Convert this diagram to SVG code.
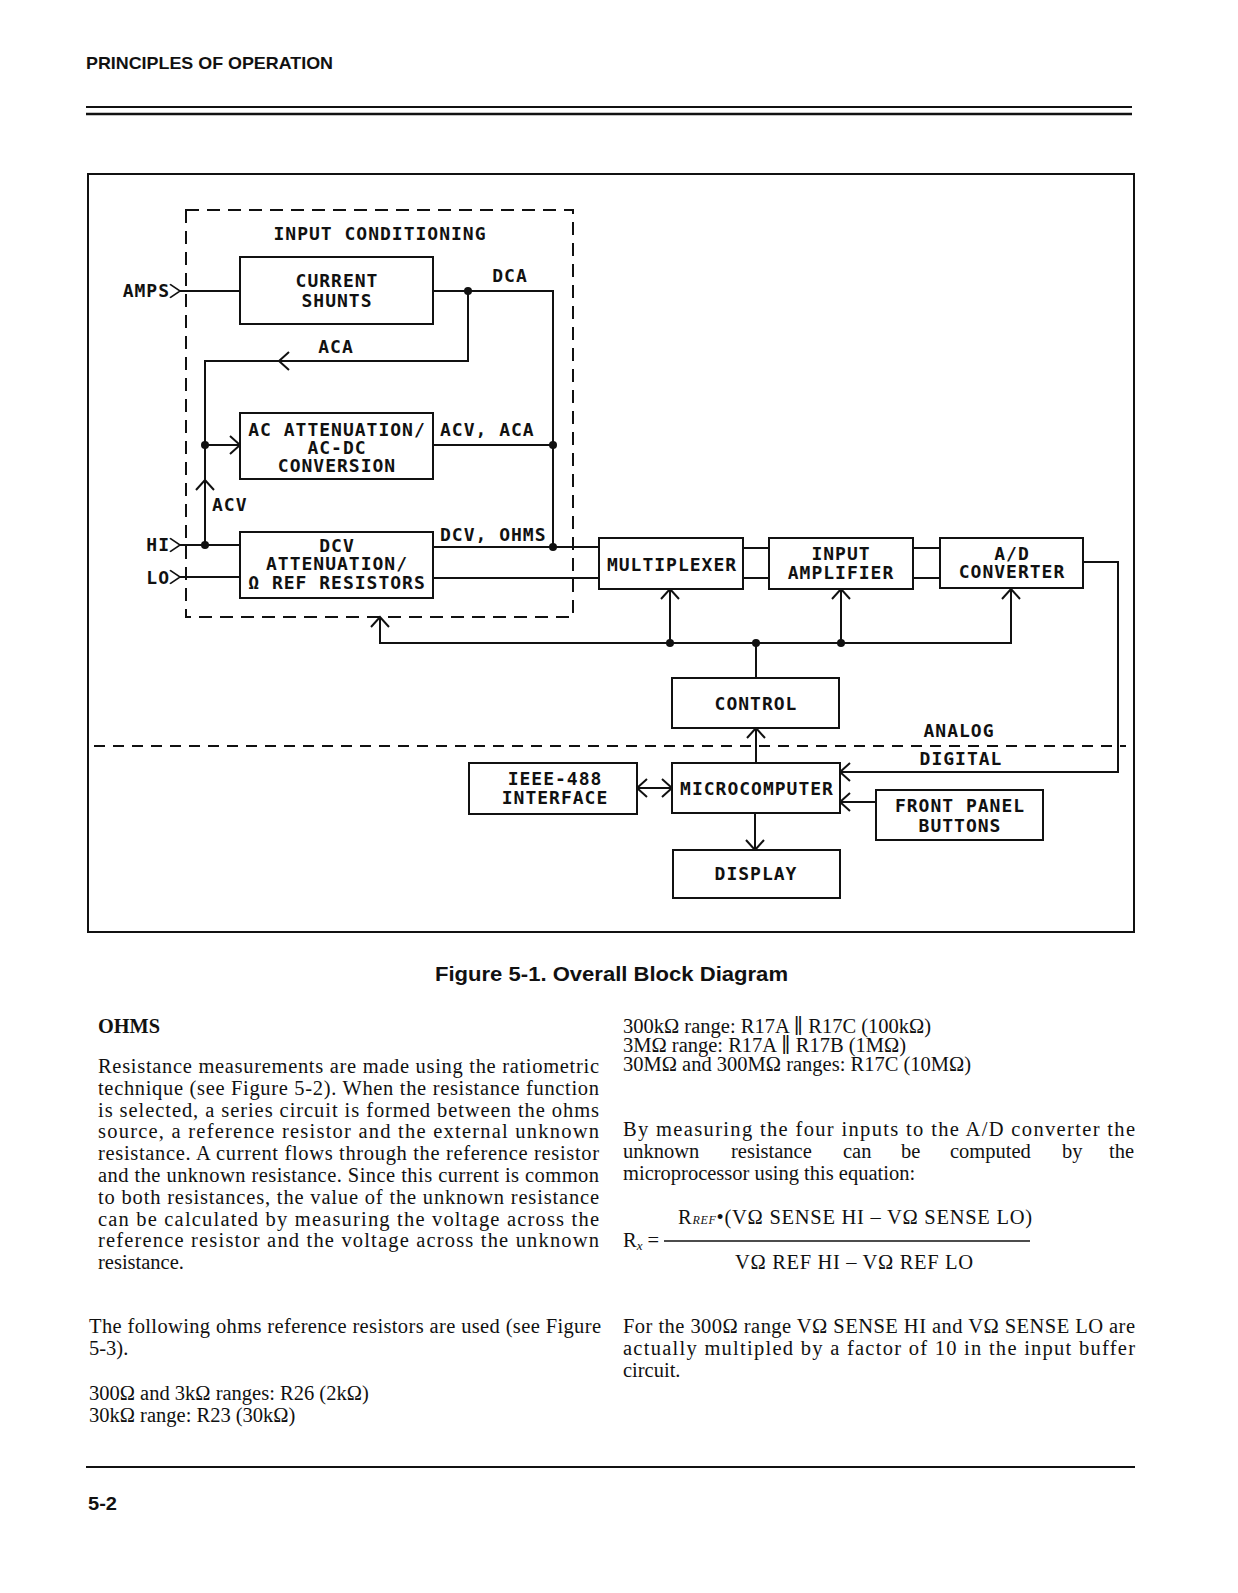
<svg xmlns="http://www.w3.org/2000/svg" xmlns:xlink="http://www.w3.org/1999/xlink" width="1238" height="1593" viewBox="0 0 1238 1593">
<style>
.ln{fill:none;stroke:#111;stroke-width:2}
.box{fill:#fff;stroke:#111;stroke-width:2}
.dash{fill:none;stroke:#111;stroke-width:2;stroke-dasharray:13 8}
.dash2{fill:none;stroke:#111;stroke-width:2;stroke-dasharray:11 8}
.dot{fill:#111}
.m{font-family:"DejaVu Sans Mono","Liberation Mono",monospace;font-size:18px;font-weight:bold;letter-spacing:1px;fill:#111;text-anchor:middle}
.ml{font-family:"DejaVu Sans Mono","Liberation Mono",monospace;font-size:18px;font-weight:bold;letter-spacing:1px;fill:#111}
.me{font-family:"DejaVu Sans Mono","Liberation Mono",monospace;font-size:18px;font-weight:bold;letter-spacing:1px;fill:#111;text-anchor:end}
.b{font-family:"Liberation Serif","DejaVu Serif",serif;font-size:20.5px;fill:#111}
.h{font-family:"Liberation Sans",Arial,sans-serif;font-weight:bold;fill:#111}
</style>
<defs>
<path id="chev" d="M-10,-9 L0,0 L-10,9" fill="none" stroke="#111" stroke-width="2"/>
</defs>
<rect width="1238" height="1593" fill="#fff"/>

<!-- page header -->
<text class="h" x="86" y="69" font-size="17" textLength="247" lengthAdjust="spacingAndGlyphs">PRINCIPLES OF OPERATION</text>
<line x1="86" y1="107" x2="1132" y2="107" stroke="#111" stroke-width="2"/>
<line x1="86" y1="114" x2="1132" y2="114" stroke="#111" stroke-width="2.5"/>

<!-- figure frame -->
<rect x="88" y="174" width="1046" height="758" fill="none" stroke="#111" stroke-width="2"/>

<!-- input conditioning dashed group -->
<g id="input-conditioning">
<rect class="dash" x="186" y="210" width="387" height="407"/>
<text class="m" x="380" y="240">INPUT CONDITIONING</text>
</g>

<!-- connectors -->
<g id="connectors">
<path class="ln" d="M180,291 H240"/>
<path class="ln" d="M433,291 H553 V547"/>
<path class="ln" d="M468,291 V361 H205 V545"/>
<path class="ln" d="M205,445 H240"/>
<path class="ln" d="M433,445 H553"/>
<path class="ln" d="M180,545 H240"/>
<path class="ln" d="M180,577 H240"/>
<path class="ln" d="M433,547 H599"/>
<path class="ln" d="M433,578 H599"/>
<path class="ln" d="M743,548 H769 M743,578 H769"/>
<path class="ln" d="M913,548 H940 M913,578 H940"/>
<path class="ln" d="M1083,562 H1118 V772 H840"/>
<path class="ln" d="M876,802 H840"/>
<path class="ln" d="M380,617 V643 H1011 V589"/>
<path class="ln" d="M670,643 V589"/>
<path class="ln" d="M841,643 V589"/>
<path class="ln" d="M756,643 V678"/>
<path class="ln" d="M756,763 V728"/>
<path class="ln" d="M755,813 V850"/>
<path class="ln" d="M637,788 H672"/>
<path class="dash2" d="M94,746 H1126"/>
<!-- arrowheads -->
<use xlink:href="#chev" transform="translate(180,291) scale(1,0.75)"/>
<use xlink:href="#chev" transform="translate(180,545) scale(1,0.75)"/>
<use xlink:href="#chev" transform="translate(180,577) scale(1,0.75)"/>
<use xlink:href="#chev" transform="translate(279,361) rotate(180)"/>
<use xlink:href="#chev" transform="translate(240,445)"/>
<use xlink:href="#chev" transform="translate(205,480) rotate(-90)"/>
<use xlink:href="#chev" transform="translate(380,617) rotate(-90)"/>
<use xlink:href="#chev" transform="translate(670,589) rotate(-90)"/>
<use xlink:href="#chev" transform="translate(841,589) rotate(-90)"/>
<use xlink:href="#chev" transform="translate(1011,589) rotate(-90)"/>
<use xlink:href="#chev" transform="translate(756,728) rotate(-90)"/>
<use xlink:href="#chev" transform="translate(755,850) rotate(90)"/>
<use xlink:href="#chev" transform="translate(672,788)"/>
<use xlink:href="#chev" transform="translate(637,788) rotate(180)"/>
<use xlink:href="#chev" transform="translate(840,772) rotate(180)"/>
<use xlink:href="#chev" transform="translate(840,802) rotate(180)"/>
<!-- junction dots -->
<circle class="dot" cx="468" cy="291" r="4"/>
<circle class="dot" cx="553" cy="445" r="4"/>
<circle class="dot" cx="553" cy="547" r="4"/>
<circle class="dot" cx="205" cy="445" r="4"/>
<circle class="dot" cx="205" cy="545" r="4"/>
<circle class="dot" cx="670" cy="643" r="4"/>
<circle class="dot" cx="756" cy="643" r="4"/>
<circle class="dot" cx="841" cy="643" r="4"/>
<!-- connector labels -->
<text class="me" x="170" y="297">AMPS</text>
<text class="me" x="170" y="551">HI</text>
<text class="me" x="170" y="584">LO</text>
<text class="m" x="510" y="282">DCA</text>
<text class="m" x="336" y="353">ACA</text>
<text class="ml" x="440" y="436">ACV, ACA</text>
<text class="ml" x="212" y="511">ACV</text>
<text class="ml" x="440" y="541">DCV, OHMS</text>
<text class="m" x="959" y="737">ANALOG</text>
<text class="m" x="961" y="765">DIGITAL</text>
</g>

<g id="current-shunts">
<rect class="box" x="240" y="257" width="193" height="67"/>
<text class="m" x="337" y="287">CURRENT</text>
<text class="m" x="337" y="307">SHUNTS</text>
</g>
<g id="ac-attenuation">
<rect class="box" x="240" y="413" width="193" height="66"/>
<text class="m" x="337" y="436">AC ATTENUATION/</text>
<text class="m" x="337" y="454">AC-DC</text>
<text class="m" x="337" y="472">CONVERSION</text>
</g>
<g id="dcv-attenuation">
<rect class="box" x="240" y="532" width="193" height="66"/>
<text class="m" x="337" y="552">DCV</text>
<text class="m" x="337" y="570">ATTENUATION/</text>
<text class="m" x="337" y="589">Ω REF RESISTORS</text>
</g>
<g id="multiplexer">
<rect class="box" x="599" y="538" width="144" height="51"/>
<text class="m" x="672" y="571">MULTIPLEXER</text>
</g>
<g id="input-amplifier">
<rect class="box" x="769" y="538" width="144" height="51"/>
<text class="m" x="841" y="560">INPUT</text>
<text class="m" x="841" y="579">AMPLIFIER</text>
</g>
<g id="ad-converter">
<rect class="box" x="940" y="538" width="143" height="50"/>
<text class="m" x="1012" y="560">A/D</text>
<text class="m" x="1012" y="578">CONVERTER</text>
</g>
<g id="control">
<rect class="box" x="672" y="678" width="167" height="50"/>
<text class="m" x="756" y="710">CONTROL</text>
</g>
<g id="ieee-488">
<rect class="box" x="469" y="763" width="168" height="51"/>
<text class="m" x="555" y="785">IEEE-488</text>
<text class="m" x="555" y="804">INTERFACE</text>
</g>
<g id="microcomputer">
<rect class="box" x="672" y="763" width="168" height="50"/>
<text class="m" x="757" y="795">MICROCOMPUTER</text>
</g>
<g id="front-panel">
<rect class="box" x="876" y="790" width="167" height="50"/>
<text class="m" x="960" y="812">FRONT PANEL</text>
<text class="m" x="960" y="832">BUTTONS</text>
</g>
<g id="display">
<rect class="box" x="673" y="850" width="167" height="48"/>
<text class="m" x="756" y="880">DISPLAY</text>
</g>

<!-- caption -->
<text class="h" x="435" y="981" font-size="20" textLength="353" lengthAdjust="spacingAndGlyphs">Figure 5-1. Overall Block Diagram</text>

<!-- left column -->
<text x="98" y="1033" font-family="Liberation Serif, serif" font-weight="bold" font-size="20" fill="#111" textLength="62" lengthAdjust="spacingAndGlyphs">OHMS</text>
<g class="b">
<text x="98" y="1073" textLength="501" lengthAdjust="spacing">Resistance measurements are made using the ratiometric</text>
<text x="98" y="1095" textLength="501" lengthAdjust="spacing">technique (see Figure 5-2). When the resistance function</text>
<text x="98" y="1117" textLength="501" lengthAdjust="spacing">is selected, a series circuit is formed between the ohms</text>
<text x="98" y="1138" textLength="501" lengthAdjust="spacing">source, a reference resistor and the external unknown</text>
<text x="98" y="1160" textLength="501" lengthAdjust="spacing">resistance. A current flows through the reference resistor</text>
<text x="98" y="1182" textLength="501" lengthAdjust="spacing">and the unknown resistance. Since this current is common</text>
<text x="98" y="1204" textLength="501" lengthAdjust="spacing">to both resistances, the value of the unknown resistance</text>
<text x="98" y="1226" textLength="501" lengthAdjust="spacing">can be calculated by measuring the voltage across the</text>
<text x="98" y="1247" textLength="501" lengthAdjust="spacing">reference resistor and the voltage across the unknown</text>
<text x="98" y="1269">resistance.</text>
<text x="89" y="1333" textLength="512" lengthAdjust="spacing">The following ohms reference resistors are used (see Figure</text>
<text x="89" y="1355">5-3).</text>
<text x="89" y="1400">300Ω and 3kΩ ranges: R26 (2kΩ)</text>
<text x="89" y="1422">30kΩ range: R23 (30kΩ)</text>

<!-- right column -->
<text x="623" y="1033">300kΩ range: R17A ∥ R17C (100kΩ)</text>
<text x="623" y="1052">3MΩ range: R17A ∥ R17B (1MΩ)</text>
<text x="623" y="1071">30MΩ and 300MΩ ranges: R17C (10MΩ)</text>
<text x="623" y="1136" textLength="512" lengthAdjust="spacing">By measuring the four inputs to the A/D converter the</text>
<text y="1158"><tspan x="623">unknown</tspan><tspan x="731">resistance</tspan><tspan x="843">can</tspan><tspan x="901">be</tspan><tspan x="950">computed</tspan><tspan x="1062">by</tspan><tspan x="1109">the</tspan></text>
<text x="623" y="1180">microprocessor using this equation:</text>
<text x="678" y="1224" textLength="354" lengthAdjust="spacing">R<tspan font-size="12" font-style="italic">REF</tspan>•(VΩ SENSE HI – VΩ SENSE LO)</text>
<text x="623" y="1247">R<tspan font-size="13" font-style="italic" dy="3">x</tspan><tspan dy="-3"> =</tspan></text>
<line x1="664" y1="1241" x2="1030" y2="1241" stroke="#111" stroke-width="1.5"/>
<text x="735" y="1269" textLength="238" lengthAdjust="spacing">VΩ REF HI – VΩ REF LO</text>
<text x="623" y="1333" textLength="512" lengthAdjust="spacing">For the 300Ω range VΩ SENSE HI and VΩ SENSE LO are</text>
<text x="623" y="1355" textLength="512" lengthAdjust="spacing">actually multipled by a factor of 10 in the input buffer</text>
<text x="623" y="1377">circuit.</text>
</g>

<!-- footer -->
<line x1="86" y1="1467" x2="1135" y2="1467" stroke="#111" stroke-width="2"/>
<text class="h" x="88" y="1510" font-size="18" textLength="29" lengthAdjust="spacingAndGlyphs">5-2</text>
</svg>
